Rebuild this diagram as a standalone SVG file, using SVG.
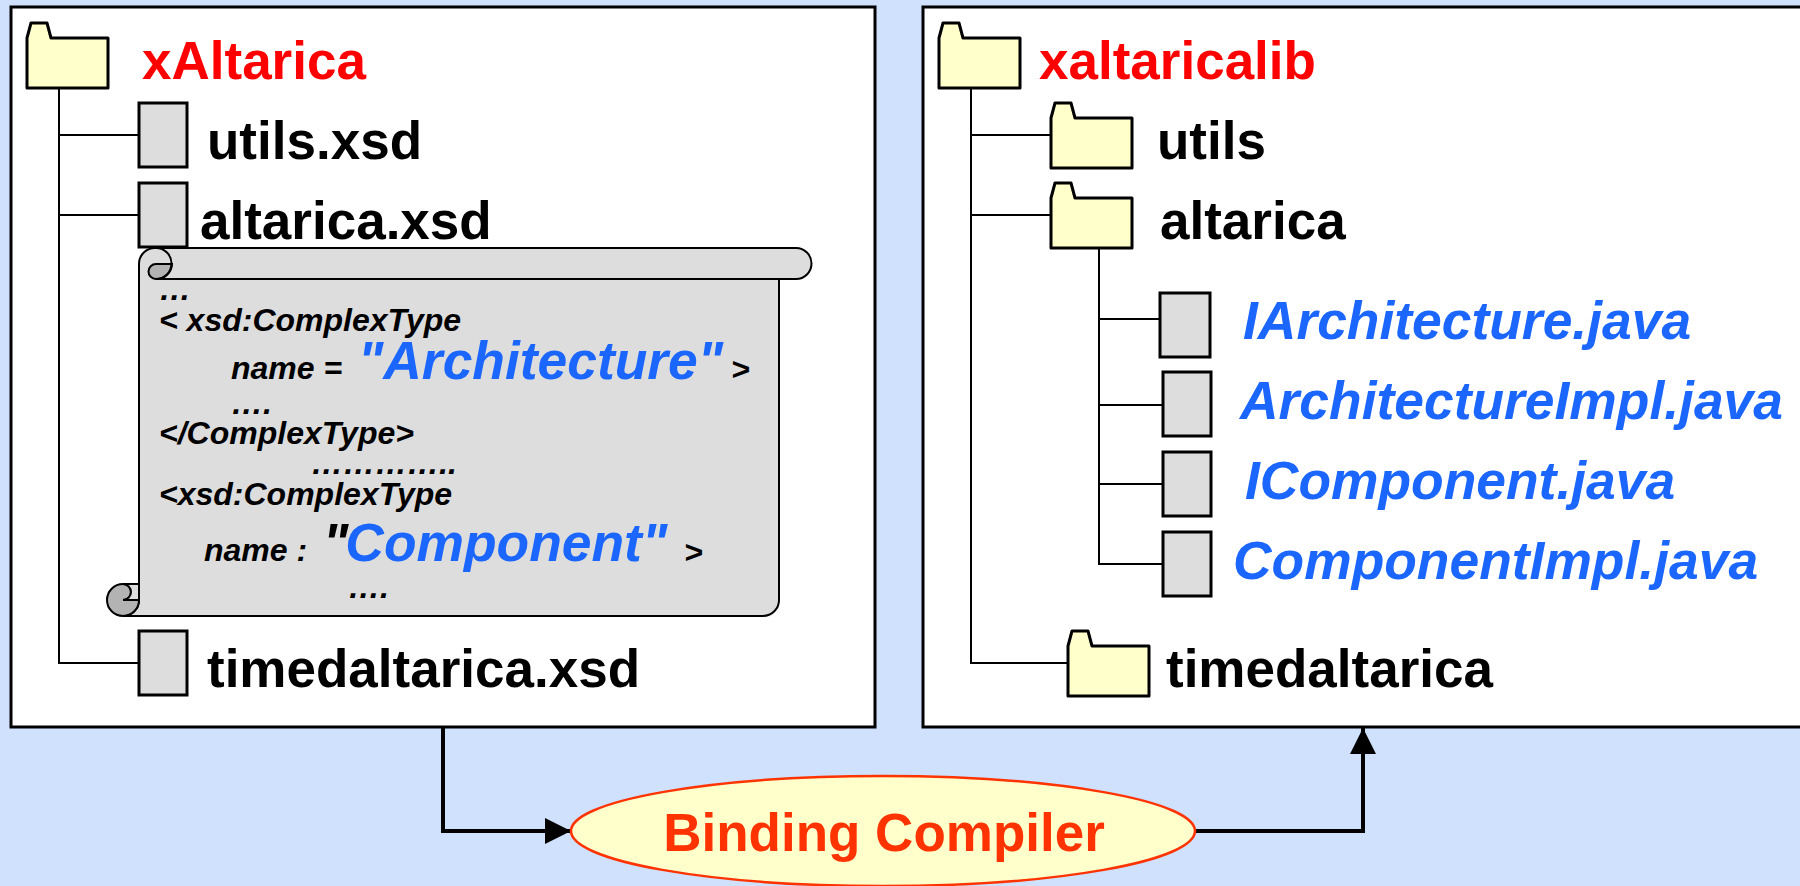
<svg xmlns="http://www.w3.org/2000/svg" width="1800" height="886" viewBox="0 0 1800 886">
<style>
.box{fill:#fff;stroke:#000;stroke-width:3}
.folder{fill:#ffc;stroke:#000;stroke-width:3;stroke-linejoin:round}
.file{fill:#ddd;stroke:#000;stroke-width:3}
.tree{fill:none;stroke:#000;stroke-width:2}
.flow{fill:none;stroke:#000;stroke-width:4}
text{font-family:"Liberation Sans",Arial,sans-serif;font-weight:700}
.red{font-size:53px;fill:#f00}
.blk{font-size:53px;fill:#000}
.java{font-size:53.4px;fill:#1a66ff;font-style:italic}
.code{font-size:32px;fill:#000;font-style:italic}
.big{font-size:53.4px;fill:#1a66ff;font-style:italic}
</style>
<defs>
<path id="f" d="M0 15L4 0H20L24 15H81V65H0Z" class="folder"/>
<marker id="a" markerUnits="userSpaceOnUse" markerWidth="28" markerHeight="28" refX="26" refY="13" orient="auto"><path d="M0 0L26 13L0 26Z" fill="#000"/></marker>
</defs>
<rect width="1800" height="886" fill="#cfe1fd"/>
<g id="left-panel"><rect class="box" x="11" y="7" width="864" height="720"/></g>
<g id="right-panel"><rect class="box" x="923" y="7" width="890" height="720"/></g>
<g id="connectors">
<path class="tree" d="M59 87V663H139M59 135H139M59 215H139"/>
<path class="tree" d="M971 87V663H1068M971 135H1051M971 215H1051"/>
<path class="tree" d="M1099 246V564H1162M1099 319H1159M1099 405H1162M1099 484H1162"/>
<path class="flow" d="M443 727V831H571" marker-end="url(#a)"/>
<path class="flow" d="M1195 831H1363V728" marker-end="url(#a)"/>
</g>
<g id="xaltarica"><use href="#f" x="27" y="23"/><text class="red" x="142" y="79">xAltarica</text></g>
<g id="utils-xsd"><rect class="file" x="139" y="103" width="48" height="64"/><text class="blk" x="207" y="159">utils.xsd</text></g>
<g id="altarica-xsd"><rect class="file" x="139" y="183" width="48" height="64"/><text class="blk" x="200" y="239">altarica.xsd</text></g>
<g id="scroll">
<path d="M156 248H796A15.5 15.5 0 0 1 796 279H779V600A16 16 0 0 1 763 616H123A16 16 0 0 0 139 600V264A16 16 0 0 1 156 248Z" fill="#ddd" stroke="#000" stroke-width="2"/>
<path d="M172 264H156A7.5 7.5 0 0 0 156 279A15.5 15.5 0 0 0 172 264Z" fill="#b3b3b3" stroke="#000" stroke-width="2"/>
<path d="M156 248A15.5 15.5 0 0 1 156 279H779" fill="none" stroke="#000" stroke-width="2"/>
<path d="M123 584A16 16 0 0 0 123 616A16 16 0 0 0 139 600H123A8 8 0 0 0 123 584Z" fill="#b3b3b3" stroke="#000" stroke-width="2"/>
<path d="M123 584H139V600H123A8 8 0 0 0 123 584Z" fill="#ddd" stroke="#000" stroke-width="2"/>
<text class="code" x="159" y="300">…</text>
<text class="code" x="159" y="331">&lt; xsd:ComplexType</text>
<text class="code" x="231" y="379">name =</text>
<text class="big" x="358" y="379">"Architecture"</text>
<text class="code" x="731" y="380">&gt;</text>
<text class="code" x="231" y="414">….</text>
<text class="code" x="159" y="444">&lt;/ComplexType&gt;</text>
<text class="code" x="311" y="474">…………..</text>
<text class="code" x="159" y="505">&lt;xsd:ComplexType</text>
<text class="code" x="204" y="561">name :</text>
<text class="big" x="323" y="561"><tspan fill="#000">"</tspan><tspan dx="-3">Component"</tspan></text>
<text class="code" x="684" y="563">&gt;</text>
<text class="code" x="348" y="598">….</text>
</g>
<g id="timedaltarica-xsd"><rect class="file" x="139" y="631" width="48" height="64"/><text class="blk" x="207" y="687">timedaltarica.xsd</text></g>
<g id="xaltaricalib"><use href="#f" x="939" y="23"/><text class="red" x="1039" y="79">xaltaricalib</text></g>
<g id="utils"><use href="#f" x="1051" y="103"/><text class="blk" x="1157" y="159">utils</text></g>
<g id="altarica"><use href="#f" x="1051" y="183"/><text class="blk" x="1160" y="239">altarica</text></g>
<g id="iarchitecture"><rect class="file" x="1160" y="293" width="50" height="64"/><text class="java" x="1243" y="339">IArchitecture.java</text></g>
<g id="architectureimpl"><rect class="file" x="1163" y="372" width="48" height="64"/><text class="java" x="1240" y="419">ArchitectureImpl.java</text></g>
<g id="icomponent"><rect class="file" x="1163" y="452" width="48" height="64"/><text class="java" x="1245" y="499">IComponent.java</text></g>
<g id="componentimpl"><rect class="file" x="1163" y="532" width="48" height="64"/><text class="java" x="1233" y="579">ComponentImpl.java</text></g>
<g id="timedaltarica"><use href="#f" x="1068" y="631"/><text class="blk" x="1166" y="687">timedaltarica</text></g>
<g id="compiler"><ellipse cx="883" cy="831" rx="312" ry="55" fill="#ffc" stroke="#ff3300" stroke-width="2.5"/><text x="884" y="851" text-anchor="middle" font-size="53" fill="#ff3300">Binding Compiler</text></g>
</svg>
